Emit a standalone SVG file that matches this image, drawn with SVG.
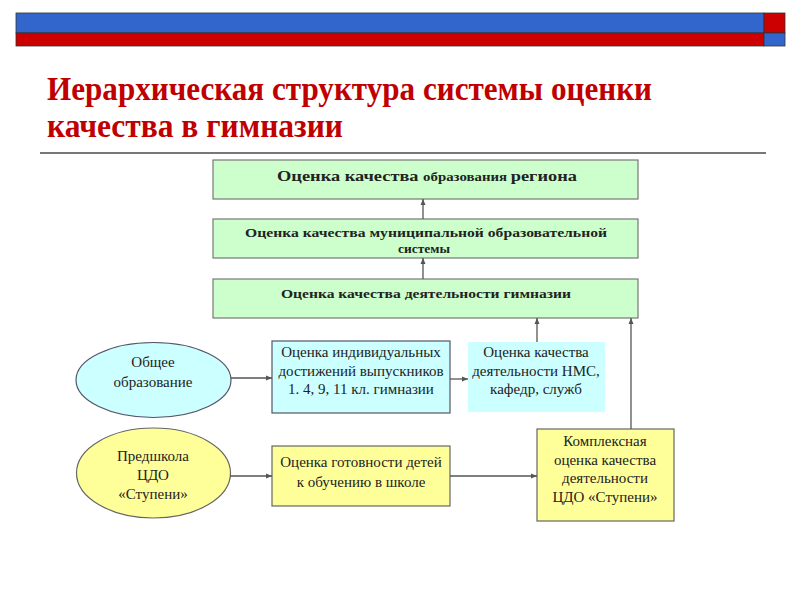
<svg xmlns="http://www.w3.org/2000/svg" width="800" height="600" viewBox="0 0 800 600">
<style>
.title{font-family:"Liberation Serif",serif;font-weight:bold;font-size:34px;fill:#c00000}
.gb{fill:#ccffcc;stroke:#777;stroke-width:1.2}
.cb{fill:#ccffff;stroke:#556;stroke-width:1.2}
.cn{fill:#ccffff;stroke:none}
.yb{fill:#ffff99;stroke:#666;stroke-width:1.2}
.bt{font-family:"Liberation Serif",serif;font-weight:bold;font-size:13.5px;fill:#222;text-anchor:middle}
.t{font-family:"Liberation Serif",serif;font-size:15px;fill:#222;text-anchor:middle}
.c line{stroke:#555;stroke-width:1.3}
</style>
<defs>
<marker id="ah" markerUnits="userSpaceOnUse" markerWidth="7" markerHeight="6" refX="6" refY="3" orient="auto">
<path d="M0,0.5 L6,3 L0,5.5 Z" fill="#555"/>
</marker>
</defs>
<g id="header">
<rect x="16" y="13" width="748" height="20" fill="#3366cc" stroke="#333" stroke-width="0.8"/>
<rect x="16" y="33" width="748" height="13" fill="#cc0000" stroke="#333" stroke-width="0.8"/>
<rect x="764" y="13" width="21" height="20" fill="#cc0000" stroke="#333" stroke-width="0.8"/>
<rect x="764" y="33" width="21" height="13" fill="#3366cc" stroke="#333" stroke-width="0.8"/>
<text class="title" x="47" y="100" textLength="605" lengthAdjust="spacingAndGlyphs">Иерархическая структура системы оценки</text>
<text class="title" x="47" y="137" textLength="296" lengthAdjust="spacingAndGlyphs">качества в гимназии</text>
<line x1="40" y1="153" x2="766" y2="153" stroke="#777" stroke-width="2"/>
</g>
<g id="region">
<rect class="gb" x="213" y="160" width="425" height="39"/>
<text class="bt" x="427" y="181" textLength="300" lengthAdjust="spacingAndGlyphs"><tspan font-size="15.5">Оценка качества </tspan><tspan font-size="12.5">образования </tspan><tspan font-size="15.5">региона</tspan></text>
</g>
<g id="municipal">
<rect class="gb" x="213" y="219" width="425" height="39"/>
<text class="bt" x="426" y="237" textLength="362" lengthAdjust="spacingAndGlyphs">Оценка качества муниципальной образовательной</text>
<text class="bt" x="424" y="253">системы</text>
</g>
<g id="gymnasium">
<rect class="gb" x="213" y="279" width="425" height="39"/>
<text class="bt" x="426" y="298" textLength="290" lengthAdjust="spacingAndGlyphs">Оценка качества деятельности гимназии</text>
</g>
<g id="general">
<ellipse class="cb" cx="153.5" cy="380" rx="77.5" ry="37.5"/>
<text class="t" x="153" y="367">Общее</text>
<text class="t" x="153" y="387">образование</text>
</g>
<g id="graduates">
<rect class="cb" x="272" y="341" width="178" height="72"/>
<text class="t" x="361" y="357">Оценка индивидуальных</text>
<text class="t" x="361" y="376">достижений выпускников</text>
<text class="t" x="361" y="394">1. 4, 9, 11 кл. гимназии</text>
</g>
<g id="nms">
<rect class="cn" x="468" y="342" width="137" height="70"/>
<text class="t" x="536" y="357">Оценка качества</text>
<text class="t" x="536" y="376">деятельности НМС,</text>
<text class="t" x="536" y="394">кафедр, служб</text>
</g>
<g id="preschool">
<ellipse class="yb" cx="153.5" cy="473" rx="77" ry="45"/>
<text class="t" x="153" y="461">Предшкола</text>
<text class="t" x="153" y="480">ЦДО</text>
<text class="t" x="153" y="499">«Ступени»</text>
</g>
<g id="readiness">
<rect class="yb" x="272" y="446" width="178" height="60"/>
<text class="t" x="361" y="467">Оценка готовности детей</text>
<text class="t" x="361" y="487">к обучению в школе</text>
</g>
<g id="complex">
<rect class="yb" x="537" y="429" width="137" height="92"/>
<text class="t" x="605" y="446">Комплексная</text>
<text class="t" x="605" y="465">оценка качества</text>
<text class="t" x="605" y="483">деятельности</text>
<text class="t" x="605" y="502">ЦДО «Ступени»</text>
</g>
<g id="connectors" class="c">
<line x1="423" y1="219" x2="423" y2="199" marker-end="url(#ah)"/>
<line x1="423" y1="279" x2="423" y2="258" marker-end="url(#ah)"/>
<line x1="537" y1="342" x2="537" y2="318" marker-end="url(#ah)"/>
<line x1="631" y1="429" x2="631" y2="318" marker-end="url(#ah)"/>
<line x1="231" y1="378" x2="272" y2="378" marker-end="url(#ah)"/>
<line x1="450" y1="379" x2="468" y2="379" marker-end="url(#ah)"/>
<line x1="230" y1="476" x2="272" y2="476" marker-end="url(#ah)"/>
<line x1="450" y1="476" x2="537" y2="476" marker-end="url(#ah)"/>
</g>
</svg>
